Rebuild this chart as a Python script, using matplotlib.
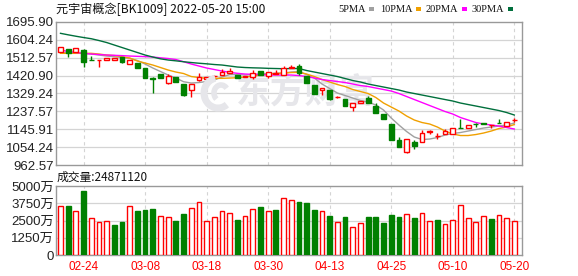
import matplotlib
matplotlib.use('Agg')
import matplotlib.pyplot as plt
from matplotlib.patches import Rectangle, Arc
import numpy as np

plt.rcParams['font.family'] = ['Liberation Sans', 'Noto Sans CJK SC', 'DejaVu Sans']

# ---------------- data ----------------
title = '元宇宙概念[BK1009] 2022-05-20 15:00'
dates = ['02-21', '02-22', '02-23', '02-24', '02-25', '02-28', '03-01', '03-02', '03-03', '03-04',
         '03-07', '03-08', '03-09', '03-10', '03-11', '03-14', '03-15', '03-16', '03-17', '03-18',
         '03-21', '03-22', '03-23', '03-24', '03-25', '03-28', '03-29', '03-30', '03-31', '04-01',
         '04-06', '04-07', '04-08', '04-11', '04-12', '04-13', '04-14', '04-15', '04-18', '04-19',
         '04-20', '04-21', '04-22', '04-25', '04-26', '04-27', '04-28', '04-29', '05-05', '05-06',
         '05-09', '05-10', '05-11', '05-12', '05-13', '05-16', '05-17', '05-18', '05-19', '05-20']
tick_labels = ['02-24', '03-08', '03-18', '03-30', '04-13', '04-25', '05-10', '05-20']

opens = [1539.6, 1556.5, 1542.6, 1551.3, 1502.7, 1500.1, 1500.1, 1500.1, 1514.0, 1482.2,
         1486.3, 1457.6, 1407.9, 1426.9, 1380.8, 1411.5, 1377.2, 1346.5, 1397.7, 1401.3,
         1418.2, 1423.3, 1436.1, 1423.3, 1411.5, 1414.6, 1443.8, 1420.7, 1428.4, 1423.3,
         1460.7, 1470.9, 1419.7, 1373.6, 1346.5, 1346.5, 1310.6, 1298.9, 1261.0, 1278.4,
         1307.1, 1266.1, 1222.1, 1172.4, 1090.4, 1030.5, 1081.7, 1081.7, 1131.4, 1109.4,
         1119.6, 1119.6, 1153.9, 1153.4, 1174.9, 1176.0, 1165.7, 1177.5, 1163.7, 1192.9]
closes = [1568.2, 1537.5, 1560.0, 1491.4, 1500.1, 1501.7, 1511.9, 1510.4, 1492.4, 1500.1,
          1460.7, 1410.5, 1405.4, 1409.5, 1419.7, 1389.0, 1320.9, 1375.7, 1414.6, 1415.6,
          1420.7, 1440.2, 1442.8, 1409.5, 1418.2, 1435.1, 1425.9, 1437.1, 1432.0, 1457.6,
          1464.3, 1435.1, 1383.9, 1326.0, 1358.3, 1300.4, 1313.2, 1264.6, 1278.4, 1291.7,
          1281.5, 1227.2, 1198.0, 1090.4, 1056.1, 1094.0, 1059.7, 1127.8, 1135.0, 1112.0,
          1136.5, 1150.4, 1151.9, 1168.8, 1172.4, 1173.9, 1167.3, 1175.5, 1181.1, 1195.4]
highs = [1568.2, 1558.0, 1561.6, 1556.5, 1522.1, 1502.7, 1511.9, 1511.9, 1514.0, 1500.1,
         1486.3, 1457.6, 1414.6, 1428.4, 1426.9, 1411.5, 1379.8, 1377.2, 1432.0, 1415.6,
         1423.3, 1454.0, 1457.6, 1423.3, 1418.2, 1448.9, 1443.8, 1437.1, 1448.9, 1469.4,
         1474.5, 1478.1, 1419.7, 1373.6, 1358.3, 1346.5, 1317.3, 1298.9, 1278.4, 1291.7,
         1315.8, 1278.4, 1222.1, 1172.4, 1107.3, 1094.0, 1090.4, 1141.7, 1141.7, 1127.8,
         1145.2, 1150.4, 1196.4, 1168.8, 1176.0, 1176.0, 1167.3, 1196.4, 1181.1, 1204.6]
lows = [1539.6, 1517.0, 1541.1, 1465.8, 1500.1, 1465.8, 1500.1, 1500.1, 1486.3, 1479.6,
        1460.7, 1410.5, 1333.7, 1407.9, 1377.2, 1389.0, 1318.3, 1312.2, 1395.1, 1401.3,
        1406.4, 1423.3, 1436.1, 1409.5, 1411.5, 1401.3, 1425.9, 1409.5, 1428.4, 1423.3,
        1460.7, 1423.3, 1380.8, 1326.0, 1320.9, 1295.3, 1305.5, 1264.6, 1240.5, 1278.4,
        1281.5, 1227.2, 1198.0, 1090.4, 1056.1, 1022.3, 1042.8, 1081.7, 1121.2, 1094.0,
        1119.6, 1119.6, 1151.9, 1153.4, 1158.6, 1173.9, 1150.4, 1175.5, 1163.7, 1181.1]
# volume in 万
volumes = [3540, 3540, 3180, 4640, 2650, 2380, 2430, 2160, 2380, 3540,
           3180, 3250, 3330, 2860, 2720, 2450, 2960, 3370, 3810, 2500,
           2720, 3155, 3030, 2520, 2790, 3300, 3470, 3155, 3250, 4100,
           3980, 3810, 3760, 3250, 3155, 2820, 2380, 2740, 2010, 2310,
           2740, 2740, 2310, 2890, 2740, 2960, 2670, 3030, 2430, 2520,
           2230, 2520, 3620, 2650, 2380, 2790, 2600, 2890, 2650, 2487]
last_volume = '24871120'

ma5 = [1538.5, 1536.0, 1536.0, 1533.4, 1530.9, 1525.7, 1520.6, 1517.0, 1512.9, 1508.8,
       1497.6, 1479.6, 1459.2, 1441.2, 1423.3, 1407.9, 1389.0, 1382.3, 1384.9, 1390.0,
       1397.7, 1413.1, 1425.9, 1425.9, 1423.3, 1425.9, 1428.4, 1431.0, 1432.0, 1433.6,
       1438.7, 1441.2, 1425.9, 1407.9, 1377.2, 1354.2, 1331.1, 1318.3, 1305.5, 1292.7,
       1285.0, 1269.7, 1244.1, 1203.1, 1167.3, 1134.0, 1105.8, 1093.0, 1095.6, 1103.2,
       1116.0, 1123.7, 1128.9, 1136.5, 1144.2, 1151.9, 1157.0, 1162.1, 1167.3, 1177.5]
ma10 = [1534.4, 1534.4, 1534.4, 1534.4, 1534.4, 1530.9, 1525.7, 1523.2, 1517.0, 1510.4,
        1495.0, 1484.8, 1474.5, 1461.7, 1448.9, 1438.7, 1431.0, 1415.6, 1410.5, 1406.4,
        1406.4, 1406.4, 1407.9, 1409.5, 1413.1, 1418.2, 1423.3, 1426.9, 1431.0, 1433.6,
        1436.1, 1437.1, 1428.4, 1415.6, 1400.3, 1387.5, 1374.7, 1364.4, 1349.1, 1338.8,
        1328.6, 1308.1, 1279.9, 1259.4, 1239.0, 1213.3, 1192.9, 1180.1, 1172.4, 1157.0,
        1136.5, 1121.2, 1113.5, 1113.5, 1118.6, 1126.3, 1136.5, 1149.3, 1157.0, 1169.8]
ma20 = [1551.3, 1543.7, 1538.5, 1534.4, 1530.9, 1528.3, 1525.7, 1524.2, 1522.7, 1520.6,
        1519.1, 1517.5, 1515.5, 1511.4, 1507.8, 1502.7, 1491.4, 1479.6, 1469.4, 1459.2,
        1451.5, 1443.8, 1437.1, 1432.0, 1428.4, 1426.9, 1425.9, 1423.3, 1423.3, 1423.3,
        1423.3, 1420.7, 1415.6, 1407.9, 1400.3, 1395.1, 1390.0, 1384.9, 1377.2, 1369.5,
        1364.4, 1356.7, 1349.1, 1341.4, 1328.6, 1313.2, 1297.8, 1282.5, 1267.1, 1251.8,
        1236.4, 1223.6, 1205.7, 1192.9, 1180.1, 1172.4, 1167.3, 1162.1, 1154.5, 1146.8]
ma30 = [1636.9, 1629.2, 1622.0, 1615.3, 1609.2, 1600.0, 1589.7, 1576.9, 1564.1, 1551.3,
        1538.5, 1525.7, 1515.5, 1506.3, 1500.1, 1496.0, 1491.4, 1487.3, 1483.7, 1480.7,
        1477.1, 1474.5, 1469.4, 1464.3, 1461.7, 1460.2, 1459.2, 1457.6, 1456.6, 1455.6,
        1456.6, 1456.6, 1446.4, 1438.7, 1431.0, 1423.3, 1415.6, 1405.4, 1395.1, 1387.5,
        1377.2, 1369.5, 1361.9, 1354.2, 1346.5, 1336.3, 1328.6, 1320.9, 1313.2, 1305.5,
        1297.8, 1290.2, 1279.9, 1272.2, 1264.6, 1256.9, 1249.2, 1241.5, 1231.3, 1218.5]

price_ticks = [962.57, 1054.24, 1145.91, 1237.57, 1329.24, 1420.90, 1512.57, 1604.24, 1695.90]
vol_ticks = [0, 1250, 2500, 3750, 5000]
ma_names = ['5PMA', '10PMA', '20PMA', '30PMA']

# ---------------- style ----------------
RED = '#ff0000'
GREEN = '#008000'
MA_COLORS = ['#a0a0a0', '#f0a000', '#ff00ff', '#006f3c']
FRAME = '#999999'
GRID = '#d4d4d4'
WM = '#e6e6ea'

W, H = 578, 276
fig = plt.figure(figsize=(W / 100, H / 100), dpi=100)
fig.patch.set_facecolor('white')

def fx(px):
    return px / W

def fy(py):
    return 1 - py / H

ax = fig.add_axes([fx(56), fy(165), (522 - 56) / W, (165 - 21.8) / H])
axv = fig.add_axes([fx(56), fy(255), (522 - 56) / W, (255 - 186) / H])

n = len(dates)
x = np.arange(n)
xlim = (-0.585, 60.0)
tick_pos = [dates.index(t) for t in tick_labels]

for a in (ax, axv):
    a.set_xlim(*xlim)
    for s in a.spines.values():
        s.set_color(FRAME)
        s.set_linewidth(1.0)
    for tp in tick_pos:
        a.axvline(tp, color=GRID, lw=0.8, ls=(0, (3, 3)), zorder=0)
    a.tick_params(length=0)

# price panel
ax.set_ylim(price_ticks[0], price_ticks[-1])
for p in price_ticks[1:-1]:
    ax.axhline(p, color=GRID, lw=0.9, zorder=0)
ax.set_yticks(price_ticks)
ax.set_yticklabels(['%.2f' % p for p in price_ticks], fontsize=9.5, color='#222222')
ax.tick_params(axis='y', pad=1.5)
ax.set_xticks([])

# watermark (logo swirl + text)
ax.text(0.535, 0.51, '东方财富', transform=ax.transAxes, fontsize=25, fontweight='bold',
        color=WM, ha='center', va='center', zorder=0.5,
        family=['Noto Sans CJK SC'])
fig.add_artist(Arc((fx(218), fy(93)), 28 / W, 30 / H, theta1=95, theta2=290,
                   transform=fig.transFigure, color=WM, lw=5, zorder=0.5))
fig.add_artist(Arc((fx(221), fy(93)), 14 / W, 16 / H, theta1=60, theta2=250,
                   transform=fig.transFigure, color=WM, lw=4, zorder=0.5))

bw = 0.62
for i in x:
    o, c, h, l = opens[i], closes[i], highs[i], lows[i]
    top, bot = max(o, c), min(o, c)
    if c > o:
        ax.vlines(i, top, h, color=RED, lw=1.0, zorder=3)
        ax.vlines(i, l, bot, color=RED, lw=1.0, zorder=3)
        ax.add_patch(Rectangle((i - bw / 2, bot), bw, top - bot, facecolor='white',
                               edgecolor=RED, lw=1.0, zorder=4))
    else:
        ax.vlines(i, l, h, color=GREEN, lw=1.0, zorder=3)
        ax.add_patch(Rectangle((i - bw / 2, bot), bw, max(top - bot, 0.5), facecolor=GREEN,
                               edgecolor=GREEN, lw=1.0, zorder=4))

for ma, col in zip([ma5, ma10, ma20, ma30], MA_COLORS):
    ax.plot(x, ma, color=col, lw=1.0, zorder=2)

# volume panel
axv.set_ylim(0, 5000)
for v in vol_ticks[1:-1]:
    axv.axhline(v, color=GRID, lw=0.9, zorder=0)
axv.set_yticks(vol_ticks)
axv.set_yticklabels([('%d万' % v) if v else '0' for v in vol_ticks], fontsize=9.5, color='#222222')
axv.tick_params(axis='y', pad=1.5)
axv.set_xticks(tick_pos)
axv.set_xticklabels(tick_labels, fontsize=8.5, color=RED)
axv.tick_params(axis='x', pad=4)

vbw = 0.62
for i in x:
    up = True if i == 0 else closes[i] >= closes[i - 1]
    if up:
        axv.add_patch(Rectangle((i - vbw / 2, 0), vbw, volumes[i], facecolor='white',
                                edgecolor=RED, lw=1.0, zorder=3))
    else:
        axv.add_patch(Rectangle((i - vbw / 2, 0), vbw, volumes[i], facecolor=GREEN,
                                edgecolor=GREEN, lw=1.0, zorder=3))

# texts
fig.text(fx(56), fy(9), title, fontsize=8.7, va='center', ha='left', color='#111111',
         family=['Noto Sans CJK SC', 'DejaVu Sans'])
fig.text(fx(57), fy(177), '成交量:' + last_volume, fontsize=8.5, va='center', ha='left',
         color='#111111', family=['Noto Sans CJK SC', 'DejaVu Sans'])

legend_x = [338, 380, 426, 472]
for name, col, lx in zip(ma_names, MA_COLORS, legend_x):
    fig.text(fx(lx), fy(9), name, fontsize=7.5, va='center', ha='left',
             family=['Liberation Serif'], color='#111111')
fig.canvas.draw()
renderer = fig.canvas.get_renderer()
for txt, col in zip(fig.texts[-4:], MA_COLORS):
    bb = txt.get_window_extent(renderer)
    fig.add_artist(Rectangle((fx(bb.x1 + 3), fy(10.5)), 5 / W, 4 / H, transform=fig.transFigure,
                             facecolor=col, edgecolor='none'))

fig.savefig('out.png', dpi=100, facecolor='white')
